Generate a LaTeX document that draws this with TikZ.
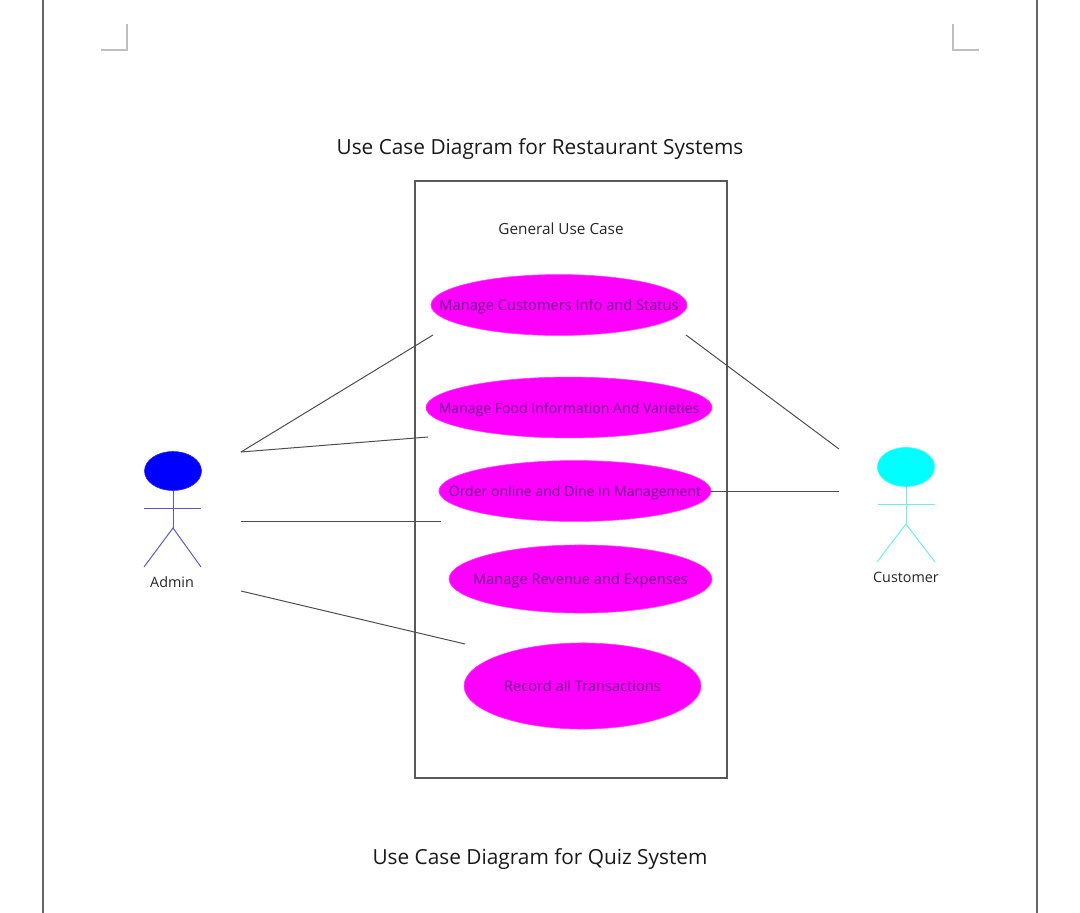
\documentclass[tikz,border=0pt]{standalone}
\usepackage{fontspec}
\setmainfont{Open Sans}
\usepackage{tikz}
\usetikzlibrary{shapes.geometric,positioning,calc}
\definecolor{ucfill}{HTML}{FF00FF}
\definecolor{uctext}{HTML}{70088A}
\definecolor{adminline}{HTML}{5A5AC0}
\definecolor{custline}{HTML}{70EEEE}
\definecolor{custhead}{HTML}{00FFFF}
%% keeps the ellipse size independent of its text
\newcommand{\uctxt}[1]{\raisebox{-4.1pt}[0pt][0pt]{\makebox[0pt]{#1}}}

\begin{document}
\begin{tikzpicture}[x=0.025cm,y=-0.025cm,
  usecase/.style={ellipse,fill=ucfill,draw=ucfill!80!white,inner sep=0pt,
              text=uctext,font=\fontsize{10.4}{12}\selectfont},
  ucnarrow/.style={usecase,font=\fontsize{10}{12}\selectfont},
  head/.style={ellipse,inner sep=0pt,minimum width=1.425cm,minimum height=0.975cm},
  assoc/.style={draw=black!70,line width=0.7pt},
  page/.style={draw=black!60,line width=0.85pt},
  crop/.style={draw=black!25,line width=0.85pt},
  title/.style={font=\fontsize{14.8}{17}\selectfont,text=black!90},
  label/.style={font=\fontsize{10.2}{12}\selectfont,text=black!85}]
%%
\useasboundingbox (0,0) rectangle (1080,913);
\fill[white] (0,0) rectangle (1080,913);
%%
%% Page edges and crop marks
\draw[page] (43,0) -- (43,913);
\draw[page] (1037,0) -- (1037,913);
\draw[crop] (101,50) -- (127,50) -- (127,24);
\draw[crop] (953,24) -- (953,50) -- (979,50);
%%
%% Titles
\node[title](maintitle) at (540,149) {Use Case Diagram for Restaurant Systems};
\node[title](quiztitle) at (540,859) {Use Case Diagram for Quiz System};
%%
%% System boundary
\node[draw=black!65,line width=0.85pt,minimum width=7.8cm,minimum height=14.925cm,inner sep=0pt](system) at (571,479.5) {};
\node[label,font=\fontsize{10.9}{12}\selectfont](general) at (561,229) {General Use Case};
%%
%% Use cases
\node[usecase,minimum width=6.4cm,minimum height=1.52cm](info)     at (559,305)   {\uctxt{Manage Customers Info and Status}};
\node[ucnarrow,minimum width=7.15cm,minimum height=1.52cm](food)   at (569,407.5) {\uctxt{Manage Food Information And Varieties}};
\node[ucnarrow,minimum width=6.8cm,minimum height=1.52cm](order)   at (575,491)   {\uctxt{Order online and Dine in Management}};
\node[usecase,minimum width=6.57cm,minimum height=1.7cm](revenue)  at (580.5,579) {\uctxt{Manage Revenue and Expenses}};
\node[usecase,minimum width=5.92cm,minimum height=2.15cm](record)  at (582.5,686) {\uctxt{Record all Transactions}};
%%
%% Admin actor
\node[head,fill=blue,draw=blue!85!white](adminhead) at (173,471) {};
\coordinate (adminhip) at (173,528);
\draw[adminline,line width=0.7pt] (adminhead.south) -- (adminhip);
\draw[adminline,line width=0.7pt] (144,508) -- (201,508);
\draw[adminline,line width=0.7pt] (144,567) -- (adminhip) -- (201,567);
\node[label](admin) at (172,582) {Admin};
%%
%% Customer actor
\node[head,fill=custhead,draw=custhead!85!white](custtop) at (906,467) {};
\coordinate (custhip) at (906,524);
\draw[custline,line width=0.7pt] (custtop.south) -- (custhip);
\draw[custline,line width=0.7pt] (878,504) -- (935,504);
\draw[custline,line width=0.7pt] (877,562) -- (custhip) -- (935,562);
\node[label](customer) at (906,577) {Customer};
%%
%% Free line ends
\coordinate (adminA) at (241,452);
\coordinate (adminB) at (241,521);
\coordinate (adminC) at (241,591);
\coordinate (custA)  at (839,449);
\coordinate (custB)  at (839,491);
%%
%% Associations
\draw[assoc] (adminA) -- (433,335);
\draw[assoc] (adminA) -- (428,437);
\draw[assoc] (adminB) -- (441,521);
\draw[assoc] (adminC) -- (465,644);
\draw[assoc] (custA) -- (686,335);
\draw[assoc] (custB) -- (order.east);
\end{tikzpicture}
\end{document}
